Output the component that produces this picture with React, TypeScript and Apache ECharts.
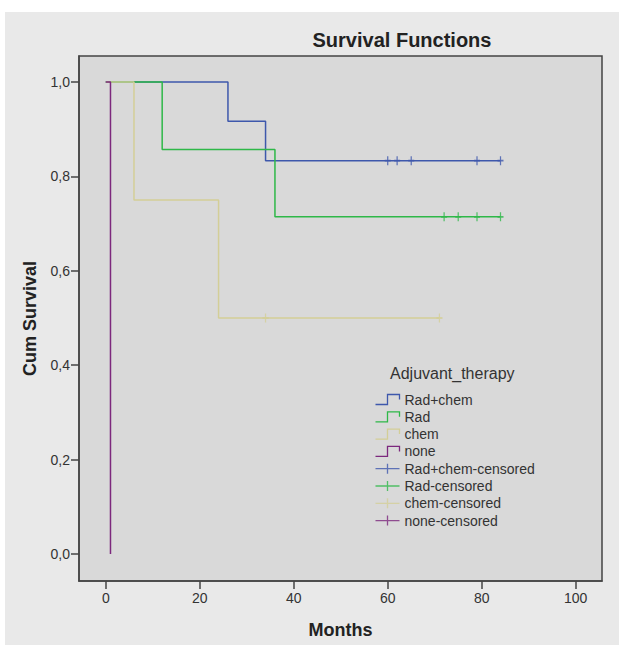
import React, { useEffect, useRef } from 'react';
import * as echarts from 'echarts';

const seriesNames = ['Rad+chem', 'Rad', 'chem', 'none'];
const censoredNames = ['Rad+chem-censored', 'Rad-censored', 'chem-censored', 'none-censored'];
const colors = ['#3e58ac', '#2eb848', '#d3ce97', '#7c287d'];

const radChem = [[0, 1], [26, 0.9167], [34, 0.8333], [84, 0.8333]];
const rad = [[0, 1], [12, 0.8571], [36, 0.7143], [84, 0.7143]];
const chem = [[0, 1], [6, 0.75], [24, 0.5], [71, 0.5]];
const none = [[0, 1], [1, 0]];

const radChemCensored = [[60, 0.8333], [62, 0.8333], [65, 0.8333], [79, 0.8333], [84, 0.8333]];
const radCensored = [[72, 0.7143], [75, 0.7143], [79, 0.7143], [84, 0.7143]];
const chemCensored = [[34, 0.5], [71, 0.5]];
const noneCensored: number[][] = [];

const xTicks = [0, 20, 40, 60, 80, 100];
const yTicks = [0, 0.2, 0.4, 0.6, 0.8, 1.0];

const FONT = '"Liberation Sans", Arial, sans-serif';
const stepIcon = 'path://M0,9 L12,9 L12,1 L24,1 L24,5';
const plusIcon = 'path://M0,5 L24,5 M12,0 L12,10';
const censorSymbol = 'path://M5,0 L5,10 M2,5 L8,5';

export default function App() {
  const ref = useRef<HTMLDivElement>(null);
  useEffect(() => {
    document.body.style.margin = '0';
    if (!ref.current) return;
    const chart = echarts.init(ref.current, undefined, { renderer: 'svg' });
    const lineData = [radChem, rad, chem, none];
    const censData = [radChemCensored, radCensored, chemCensored, noneCensored];
    const series: any[] = [];
    lineData.forEach((d, i) => {
      series.push({
        name: seriesNames[i],
        type: 'line',
        step: 'end',
        data: d,
        symbol: 'none',
        color: colors[i],
        lineStyle: { color: colors[i], width: 1.5 },
      });
    });
    censData.forEach((d, i) => {
      series.push({
        name: censoredNames[i],
        type: 'scatter',
        data: d,
        symbol: censorSymbol,
        symbolSize: [6, 9],
        color: colors[i],
        itemStyle: { color: 'none', borderColor: colors[i], borderWidth: 1.5 },
        z: 3,
      });
    });
    const legendData = [
      ...seriesNames.map((n, i) => ({
        name: n,
        icon: stepIcon,
        itemStyle: { color: 'none', borderColor: colors[i], borderWidth: 1.3 },
      })),
      ...censoredNames.map((n, i) => ({
        name: n,
        icon: plusIcon,
        itemStyle: { color: 'none', borderColor: colors[i], borderWidth: 1.3 },
      })),
    ];
    chart.setOption({
      animation: false,
      backgroundColor: '#e9e9e9',
      textStyle: { fontFamily: FONT },
      title: [
        {
          text: 'Survival Functions',
          left: 397,
          top: 18,
          textAlign: 'center',
          padding: 0,
          textStyle: { fontSize: 20, fontWeight: 'bold', color: '#222', fontFamily: FONT },
        },
        {
          text: 'Adjuvant_therapy',
          left: 385,
          top: 353,
          padding: 0,
          textStyle: { fontSize: 16, fontWeight: 'normal', color: '#333', fontFamily: FONT },
        },
      ],
      legend: {
        orient: 'vertical',
        left: 368,
        top: 380,
        padding: 0,
        itemWidth: 24,
        itemHeight: 10,
        itemGap: 2.3,
        symbolKeepAspect: false,
        textStyle: { fontSize: 14, color: '#333', fontFamily: FONT },
        data: legendData,
      },
      grid: {
        left: 74,
        top: 44,
        right: 17,
        bottom: 64,
        show: true,
        backgroundColor: '#d9d9d9',
        borderColor: '#444',
        borderWidth: 1.5,
      },
      xAxis: {
        type: 'value',
        min: -5.7,
        max: 105.6,
        name: 'Months',
        nameLocation: 'middle',
        nameGap: 40,
        nameTextStyle: { fontSize: 18, fontWeight: 'bold', color: '#222', fontFamily: FONT },
        axisLine: { show: true, onZero: false, lineStyle: { color: '#444', width: 1.5 } },
        axisTick: { show: true, length: 8, customValues: xTicks, lineStyle: { color: '#444', width: 1.5 } },
        axisLabel: { customValues: xTicks, fontSize: 14, color: '#333', margin: 10, fontFamily: FONT },
        splitLine: { show: false },
      },
      yAxis: {
        type: 'value',
        min: -0.057,
        max: 1.055,
        name: 'Cum Survival',
        nameLocation: 'middle',
        nameGap: 40,
        nameTextStyle: { fontSize: 18, fontWeight: 'bold', color: '#222', fontFamily: FONT },
        axisLine: { show: true, onZero: false, lineStyle: { color: '#444', width: 1.5 } },
        axisTick: { show: true, length: 8, customValues: yTicks, lineStyle: { color: '#444', width: 1.5 } },
        axisLabel: {
          customValues: yTicks,
          fontSize: 14,
          color: '#333',
          margin: 9,
          fontFamily: FONT,
          formatter: (v: number) => v.toFixed(1).replace('.', ','),
        },
        splitLine: { show: false },
      },
      series,
    });
    return () => chart.dispose();
  }, []);
  return (
    <div style={{ width: 619, height: 645, background: '#fff', boxSizing: 'border-box', paddingTop: 12, paddingLeft: 5 }}>
      <div ref={ref} style={{ width: 614, height: 633 }} />
    </div>
  );
}
